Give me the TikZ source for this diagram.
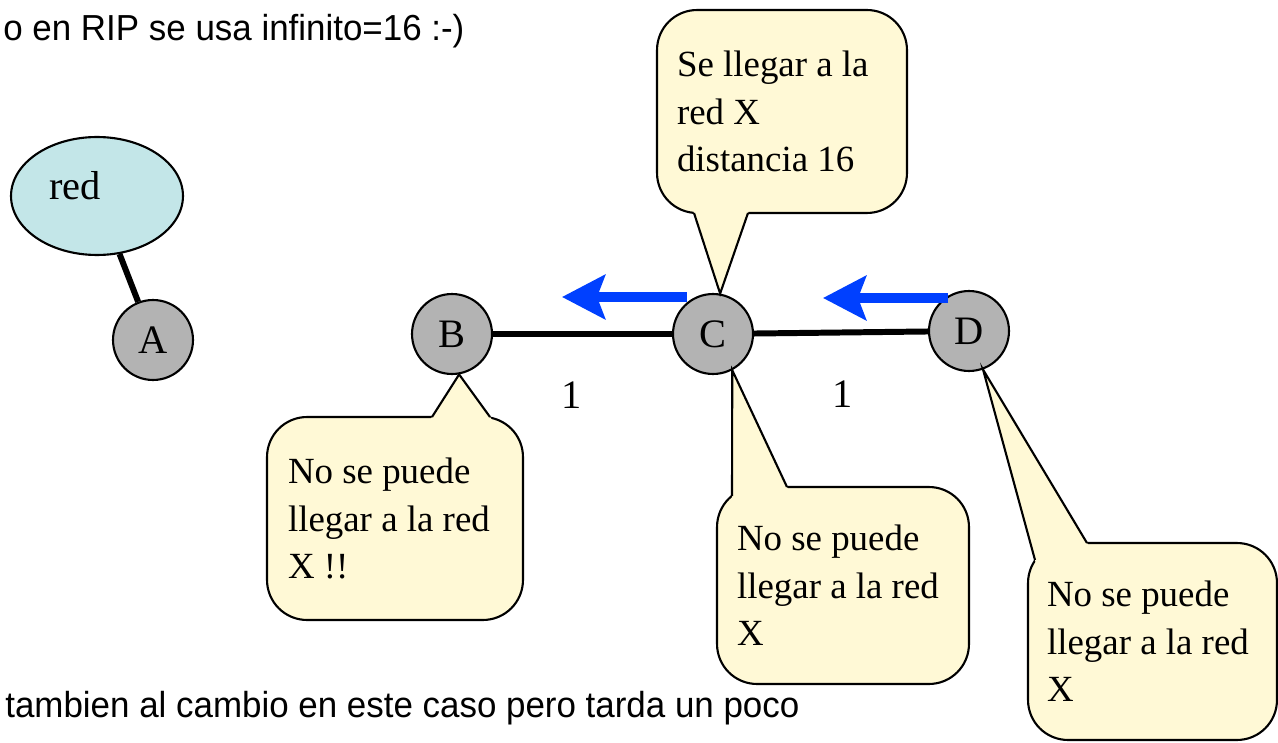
\documentclass[tikz,border=0pt]{standalone}
\usepackage{fontspec}
\setmainfont{Liberation Serif}
\setsansfont{Liberation Sans}
\usetikzlibrary{arrows.meta,calc,shapes.geometric}
\definecolor{routergray}{RGB}{179,179,179}
\definecolor{netcyan}{RGB}{195,230,232}
\definecolor{notefill}{RGB}{255,249,214}
\definecolor{updblue}{RGB}{0,64,255}
\tikzset{router/.style={circle,draw,line width=1.2pt,fill=routergray,minimum size=1.6cm,inner sep=0pt,font=\fontsize{23}{27}\selectfont}}
\tikzset{netcloud/.style={ellipse,draw,line width=1.2pt,fill=netcyan,minimum width=3.44cm,minimum height=2.36cm}}
\tikzset{link/.style={line width=3.4pt}}
\tikzset{note/.style={rectangle,draw,line width=1.2pt,fill=notefill,rounded corners=0.8cm,align=flush left,inner xsep=0.4cm,inner ysep=0pt,font=\fontsize{21}{27}\selectfont}}
\tikzset{notetail/.style={fill=notefill}}
\tikzset{update/.style={-{Stealth[length=0.86cm,width=0.88cm,inset=0.16cm]},line width=0.2cm,updblue}}
\tikzset{slidetext/.style={anchor=base west,inner sep=0pt,font=\sffamily\fontsize{20.6}{24}\selectfont}}
\tikzset{cost/.style={font=\fontsize{23}{27}\selectfont}}
\begin{document}
\begin{tikzpicture}[x=0.02cm,y=-0.02cm]
\useasboundingbox (0,0) rectangle (1278,743);
\node[slidetext] (head) at (3,41) {\scalebox{0.965}[1]{o en RIP se usa infinito=16 :-)}};
\node[slidetext] (foot) at (5,717) {\scalebox{0.965}[1]{tambien al cambio en este caso pero tarda un poco}};

\node[netcloud] (red) at (97,196) {};
\node[cost] (redtxt) at (75,186) {red};
\node[router] (A) at (153,340) {A};
\node[router] (B) at (452,334) {B};
\node[router] (C) at (713,334) {C};
\node[router] (D) at (969,331) {D};

\draw[link] (red) -- (A);
\draw[link] (B) -- (C) node (w1) [cost, pos=0.44, below=0.77cm] {1};
\draw[link] (C) -- (D) node (w2) [cost, pos=0.51, below=0.8cm] {1};

%updates going left
\coordinate (upd1s) at (687,297);
\coordinate (upd1e) at (562,297);
\coordinate (upd2s) at (948,298);
\coordinate (upd2e) at (823,298);
\draw[update] (upd1s) -- (upd1e);
\draw[update] (upd2s) -- (upd2e);

% callouts
\node[note, text width=4.2cm, minimum height=4.06cm] (ntop) at (782,111.5) {Se llegar a la\\red X\\distancia 16};
\coordinate (ntopa) at (694,213);
\coordinate (ntopb) at (748,213);
\fill[notetail] (C.80) -- ($(ntopa)!-0.12cm!(C.80)$) -- ($(ntopb)!-0.12cm!(C.80)$) -- cycle;
\draw[line width=1.2pt] (ntopa) -- (C.80) -- (ntopb);

\node[note, text width=4.28cm, inner xsep=0.42cm, minimum height=4.06cm] (nb) at (395,518.5) {No se puede\\llegar a la red\\X !!};
\coordinate (nba) at (432,417);
\coordinate (nbb) at (490,417);
\fill[notetail] (B.-80) -- ($(nba)!-0.12cm!(B.-80)$) -- ($(nbb)!-0.12cm!(B.-80)$) -- cycle;
\draw[line width=1.2pt] (nba) -- (B.-80) -- (nbb);

\node[note, text width=4.24cm, minimum height=3.94cm] (nc) at (843,585.5) {No se puede\\llegar a la red\\X};
\coordinate (nca) at (732,496);
\coordinate (ncb) at (787,487);
\fill[notetail] (C.-62) -- ($(nca)!-0.12cm!(C.-62)$) -- ($(ncb)!-0.12cm!(C.-62)$) -- cycle;
\draw[line width=1.2pt] (nca) -- (C.-62) -- (ncb);

\node[note, text width=4.22cm, inner xsep=0.38cm, minimum height=3.94cm] (nd) at (1152.5,641.5) {No se puede\\llegar a la red\\X};
\coordinate (nda) at (1035,560);
\coordinate (ndb) at (1087,543);
\fill[notetail] (D.-70) -- ($(nda)!-0.12cm!(D.-70)$) -- ($(ndb)!-0.12cm!(D.-70)$) -- cycle;
\draw[line width=1.2pt] (nda) -- (D.-70) -- (ndb);
\end{tikzpicture}
\end{document}
